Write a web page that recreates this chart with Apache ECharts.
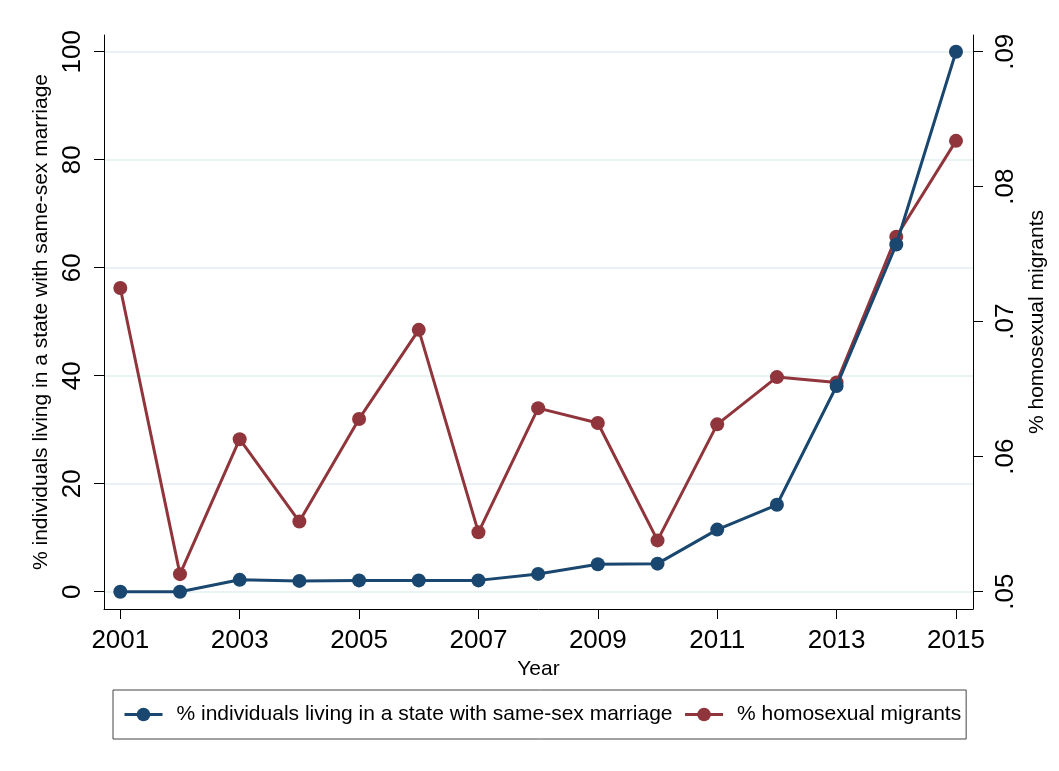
<!DOCTYPE html>
<html>
<head>
<meta charset="utf-8">
<script src="https://cdn.jsdelivr.net/npm/echarts@6/dist/echarts.min.js"></script>
<style>
  html, body { margin: 0; padding: 0; background: #fff; }
  #chart { width: 1059px; height: 771px; }
</style>
</head>
<body>
<div id="chart"></div>
<script>
const years = [2001, 2002, 2003, 2004, 2005, 2006, 2007, 2008, 2009, 2010, 2011, 2012, 2013, 2014, 2015]
const marriageShare = [0, 0, 2.2, 2.0, 2.1, 2.1, 2.1, 3.3, 5.1, 5.2, 11.5, 16.1, 38.1, 64.3, 100]
const migrantShare = [0.0725, 0.0513, 0.0613, 0.0552, 0.0628, 0.0694, 0.0544, 0.0636, 0.0625, 0.0538, 0.0624, 0.0659, 0.0655, 0.0763, 0.0834]
const yearTicks = [2001, 2003, 2005, 2007, 2009, 2011, 2013, 2015]
const leftTicks = [0, 20, 40, 60, 80, 100]
const rightTicks = [0.05, 0.06, 0.07, 0.08, 0.09]

const blue = '#1a476f'
const red = '#90353b'
const font = 'Liberation Sans, Arial, sans-serif'

const chart = echarts.init(document.getElementById('chart'))
chart.setOption({
  backgroundColor: '#fff',
  animation: false,
  textStyle: { fontFamily: font, color: '#000' },
  grid: { left: 104, right: 86, top: 35, bottom: 162 },
  legend: {
    left: 113,
    top: 690,
    orient: 'horizontal',
    borderColor: '#444',
    borderWidth: 1,
    borderRadius: 0,
    padding: [14, 5, 14, 10],
    itemGap: 11,
    itemWidth: 38,
    itemHeight: 17,
    lineStyle: { width: 3 },
    textStyle: { fontSize: 21, color: '#000', fontFamily: font, padding: [0, 0, 0, 9] },
    data: ['% individuals living in a state with same-sex marriage', '% homosexual migrants']
  },
  xAxis: {
    type: 'value',
    min: 2000.727,
    max: 2015.285,
    name: 'Year',
    nameLocation: 'middle',
    nameGap: 37,
    nameTextStyle: { fontSize: 21, color: '#000' },
    axisLine: { show: true, onZero: false, lineStyle: { color: '#000', width: 1 } },
    axisTick: { show: true, length: 10, customValues: yearTicks, lineStyle: { color: '#000' } },
    axisLabel: { customValues: yearTicks, fontSize: 26, color: '#000', margin: 19, formatter: v => String(v) },
    splitLine: { show: false }
  },
  yAxis: [{
    type: 'value',
    min: -3.2,
    max: 103.1,
    name: '% individuals living in a state with same-sex marriage',
    nameLocation: 'middle',
    nameRotate: 90,
    nameGap: 49,
    nameTextStyle: { fontSize: 21, color: '#000' },
    axisLine: { show: true, lineStyle: { color: '#000', width: 1 } },
    axisTick: { show: true, length: 10, customValues: leftTicks, lineStyle: { color: '#000' } },
    axisLabel: { customValues: leftTicks, rotate: 90, fontSize: 26, color: '#000', margin: 18 },
    splitLine: { show: true, lineStyle: { color: '#eaf2f3', width: 2 } }
  }, {
    type: 'value',
    position: 'right',
    min: 0.04872,
    max: 0.09124,
    name: '% homosexual migrants',
    nameLocation: 'middle',
    nameRotate: 90,
    nameGap: 36,
    nameTextStyle: { fontSize: 21, color: '#000' },
    axisLine: { show: true, lineStyle: { color: '#000', width: 1 } },
    axisTick: { show: true, length: 10, customValues: rightTicks, lineStyle: { color: '#000' } },
    axisLabel: {
      customValues: rightTicks, rotate: 90, fontSize: 26, color: '#000', margin: 20,
      formatter: v => v.toFixed(2).replace(/^0/, '')
    },
    splitLine: { show: false }
  }],
  series: [{
    name: '% individuals living in a state with same-sex marriage',
    type: 'line',
    yAxisIndex: 0,
    data: years.map((y, i) => [y, marriageShare[i]]),
    symbol: 'circle',
    symbolSize: 14,
    lineStyle: { color: blue, width: 3 },
    itemStyle: { color: blue },
    z: 3
  }, {
    name: '% homosexual migrants',
    type: 'line',
    yAxisIndex: 1,
    data: years.map((y, i) => [y, migrantShare[i]]),
    symbol: 'circle',
    symbolSize: 14,
    lineStyle: { color: red, width: 3 },
    itemStyle: { color: red },
    z: 2
  }]
})
</script>
</body>
</html>
